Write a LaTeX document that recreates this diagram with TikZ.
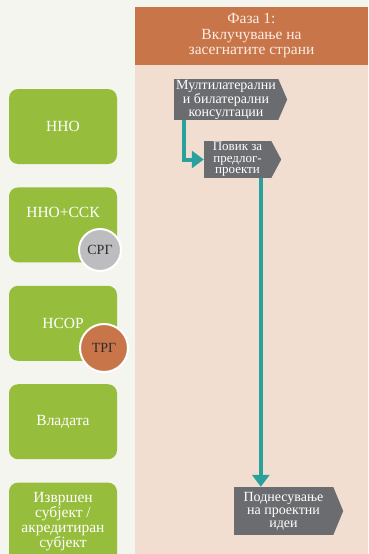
\documentclass[tikz,border=0pt]{standalone}
\usepackage{fontspec}
\setmainfont{Liberation Serif}
\usetikzlibrary{positioning,arrows.meta,calc}

\definecolor{paper}{HTML}{F5F5EF}
\definecolor{peach}{HTML}{F1DED1}
\definecolor{rust}{HTML}{C8754A}
\definecolor{leaf}{HTML}{97BD3D}
\definecolor{slate}{HTML}{6B6C6F}
\definecolor{flowteal}{HTML}{2AA19C}
\definecolor{pebble}{HTML}{BDBDBF}
\definecolor{ink}{HTML}{2B2B2B}
\definecolor{cream}{HTML}{FBEDE3}

\tikzset{
    actor/.style={rectangle, rounded corners=9pt, fill=leaf, text=white,
        minimum width=108pt, minimum height=75pt, inner sep=0pt, align=center,
        font=\fontsize{15.5}{15}\selectfont},
    wgroup/.style={circle, draw=white, line width=2pt, text=ink, inner sep=0pt,
        font=\fontsize{14}{14}\selectfont},
    stepbox/.style={rectangle, fill=slate, text=white, inner sep=0pt, align=center,
        font=\fontsize{14}{13}\selectfont},
    flow/.style={draw=flowteal, line width=4pt, -{Triangle[width=17pt,length=12pt]}},
}

\begin{document}
\begin{tikzpicture}[x=1pt, y=-1pt, node distance=23pt]
        \useasboundingbox (0,0) rectangle (368,554);
        \clip (0,0) rectangle (368,554);
        \fill[paper] (0,0) rectangle (368,554);

        % phase column
        \fill[peach] (135,65) rectangle (368,554);
        \node (phase) [rectangle, fill=rust, text=cream, minimum width=233pt, minimum height=58pt,
            inner sep=0pt, align=center, font=\fontsize{15.5}{15.5}\selectfont] at (251.5,36)
            {Фаза 1:\\Вклучување на\\засегнатите страни};

        % actors
        \node (nno) [actor] at (63,126.5) {ННО};
        \node (nnossk) [actor, below=of nno] {\raisebox{25pt}{ННО+ССК}};
        \node (nsor) [actor, below=of nnossk] {НСОР};
        \node (vlada) [actor, below=of nsor] {Владата};
        \node (subj) [actor, below=of vlada, minimum height=82pt, text depth=7pt]
            {Извршен\\субјект /\\акредитиран\\субјект};

        \node (srg) [wgroup, fill=pebble, minimum size=42pt] at (100,250) {СРГ};
        \node (trg) [wgroup, fill=rust, minimum size=48pt] at (104,348) {ТРГ};

        % steps
        \node (mult) [stepbox, minimum width=104pt, minimum height=41pt] at (226,99.5)
            {Мултилатерални\\и билатерални\\консултации};
        \node (povik) [stepbox, minimum width=67pt, minimum height=37pt,
            font=\fontsize{13}{11.5}\selectfont] at (237.5,159.5)
            {Повик за\\предлог-\\проекти};
        \node (podnes) [stepbox, minimum width=99pt, minimum height=48pt] at (283.5,511)
            {Поднесување\\на проектни\\идеи};

        \fill[slate] (mult.north east) -- ($(mult.east)+(9,0)$) -- (mult.south east) -- cycle;
        \fill[slate] (povik.north east) -- ($(povik.east)+(10,0)$) -- (povik.south east) -- cycle;
        \fill[slate] (podnes.north east) -- ($(podnes.east)+(10,0)$) -- (podnes.south east) -- cycle;

        \draw[flow] ([xshift=10pt]mult.south west) |- (povik.west);
        \draw[flow] ([xshift=57pt]povik.south west) coordinate (down) -- (down |- podnes.north);
    \end{tikzpicture}
\end{document}
